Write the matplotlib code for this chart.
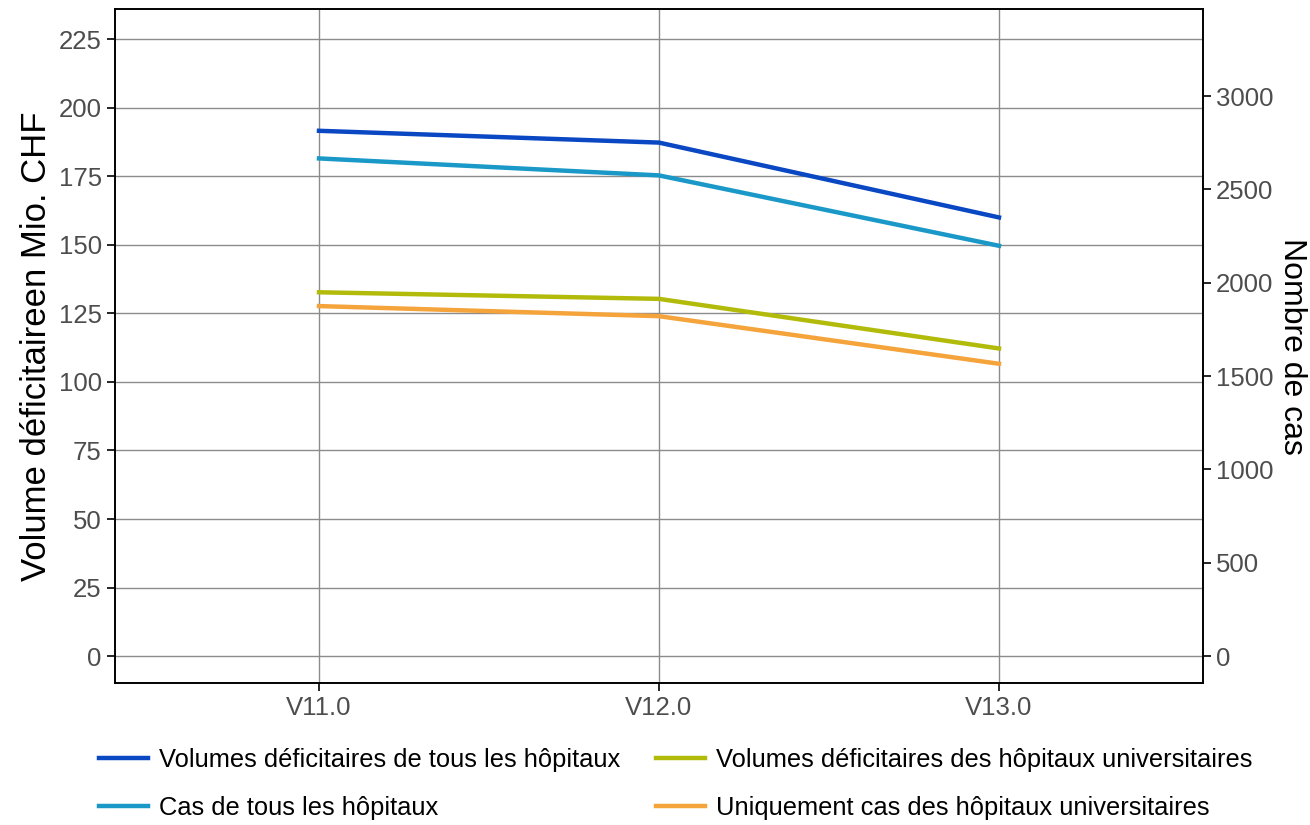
import matplotlib.pyplot as plt

plt.rcParams['font.family'] = ['Liberation Sans', 'DejaVu Sans']

versions = ['V11.0', 'V12.0', 'V13.0']
vol_all = [191.6, 187.3, 160.0]
vol_uni = [132.7, 130.3, 112.2]
cas_all = [2666, 2575, 2198]
cas_uni = [1875, 1821, 1566]

labels = ['Volumes déficitaires de tous les hôpitaux',
          'Cas de tous les hôpitaux',
          'Volumes déficitaires des hôpitaux universitaires',
          'Uniquement cas des hôpitaux universitaires']
colors = ['#0a47c2', '#1a98c8', '#b2bb0a', '#f5a33b']

fig = plt.figure(figsize=(13.1, 8.25), dpi=100)
ax = fig.add_axes([0.0878, 0.172, 0.8305, 0.817])
ax2 = ax.twinx()

x = range(len(versions))
l1, = ax.plot(x, vol_all, color=colors[0], lw=3.2, label=labels[0])
l3, = ax.plot(x, vol_uni, color=colors[2], lw=3.2, label=labels[2])
l2, = ax2.plot(x, cas_all, color=colors[1], lw=3.2, label=labels[1])
l4, = ax2.plot(x, cas_uni, color=colors[3], lw=3.2, label=labels[3])

ax.set_xlim(-0.6, 2.6)
ax.set_ylim(-9.85, 236)
ax2.set_ylim(-144.6, 3466)
ax.set_yticks(range(0, 226, 25))
ax2.set_yticks(range(0, 3001, 500))
ax.set_xticks(list(x))
ax.set_xticklabels(versions)

ax.grid(True, color='#8c8c8c', lw=1)
ax.set_axisbelow(True)

for a in (ax, ax2):
    a.tick_params(colors='black', labelcolor='#4d4d4d', labelsize=18.5,
                  length=6, width=1.2)
    for s in a.spines.values():
        s.set_linewidth(1.2)
        s.set_color('black')

ax.set_ylabel('Volume déficitaireen Mio. CHF', fontsize=25, labelpad=4)
ax2.set_ylabel('Nombre de cas', fontsize=23, rotation=270, labelpad=24)

fig.legend(handles=[l1, l2, l3, l4], loc='lower left',
           bbox_to_anchor=(0.062, -0.016), ncol=2, frameon=False,
           fontsize=18.4, handlelength=1.9, columnspacing=1.4,
           labelspacing=0.95, handletextpad=0.45, borderpad=0.2)

fig.savefig('out.png', dpi=100)
